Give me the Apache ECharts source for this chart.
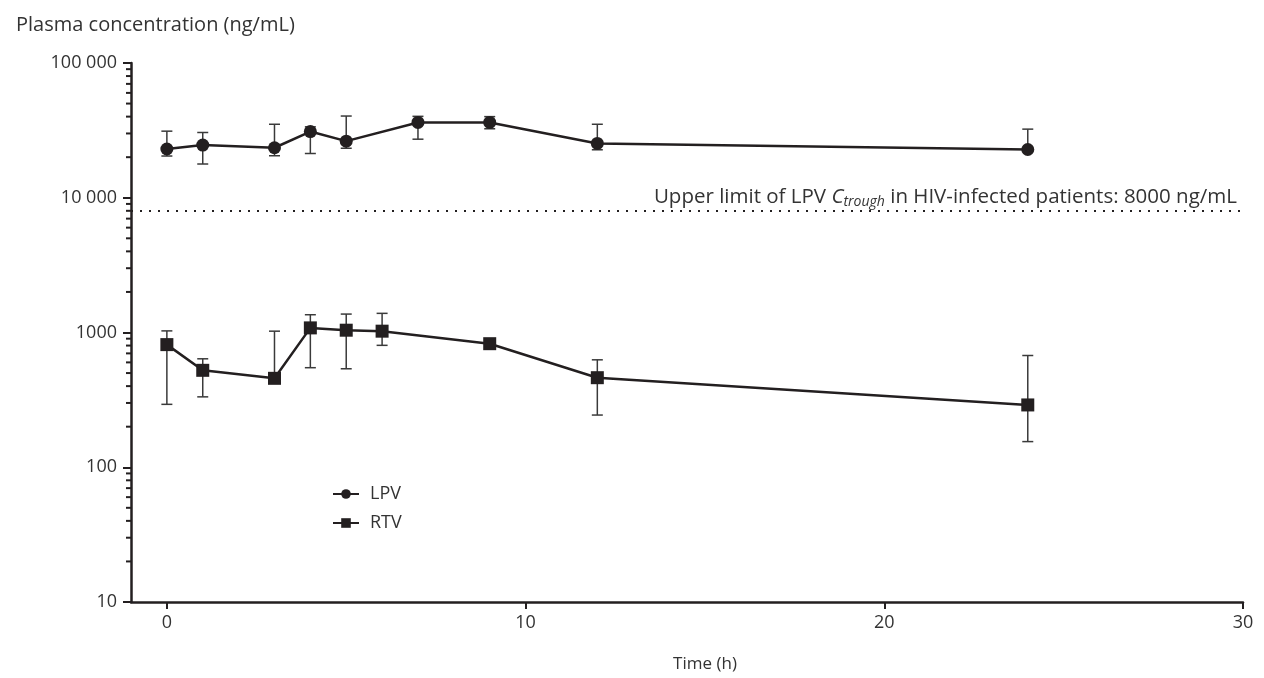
<!DOCTYPE html>
<html>
<head>
<meta charset="utf-8">
<title>LPV / RTV plasma concentration</title>
<script src="https://cdn.jsdelivr.net/npm/echarts@6/dist/echarts.min.js"></script>
<style>
  html, body { margin: 0; padding: 0; background: #fff; }
  #main { width: 1264px; height: 678px; }
</style>
</head>
<body>
<div id="main"></div>
<script>
// sampling times (h)
var lpvTimes = [0, 1, 3, 4, 5, 7, 9, 12, 24];
var rtvTimes = [0, 1, 3, 4, 5, 6, 9, 12, 24];

// LPV mean and error bar ends (ng/mL)
var lpvMean = [23000, 24600, 23500, 31000, 26300, 36200, 36200, 25300, 22800];
var lpvHigh = [31200, 30500, 35100, 33600, 40400, 40200, 40000, 35100, 32300];
var lpvLow  = [20400, 17800, 20500, 21300, 23300, 27200, 32500, 22700, 22800];

// RTV mean and error bar ends (ng/mL)
var rtvMean = [813, 524, 457, 1082, 1040, 1023, 826, 462, 290];
var rtvHigh = [1028, 638, 1023, 1355, 1370, 1387, 826, 627, 675];
var rtvLow  = [293, 333, 457, 548, 538, 803, 826, 244, 155];

var ctroughLimit = 8000;
var xTicks = [0, 10, 20, 30];
var yMinorTicks = [20, 30, 40, 50, 60, 70, 80, 90,
  200, 300, 400, 500, 600, 700, 800, 900,
  2000, 3000, 4000, 5000, 6000, 7000, 8000, 9000,
  20000, 30000, 40000, 50000, 60000, 70000, 80000, 90000];

var ink = '#231f20';
var txt = '#333';
var font = 'Open Sans';

function pairs(xs, ys) {
  return xs.map(function (x, i) { return [x, ys[i]]; });
}
function errRows(xs, m, lo, hi) {
  return xs.map(function (x, i) { return [x, m[i], lo[i], hi[i]]; });
}

// vertical error bar with caps
function renderErr(params, api) {
  var x = api.value(0), m = api.value(1), lo = api.value(2), hi = api.value(3);
  var pm = api.coord([x, m]);
  var children = [];
  var cap = 5.5;
  var st = { stroke: '#3a3a3a', lineWidth: 1.5 };
  if (hi > m) {
    var ph = api.coord([x, hi]);
    children.push({ type: 'line', shape: { x1: pm[0], y1: pm[1], x2: ph[0], y2: ph[1] }, style: st });
    children.push({ type: 'line', shape: { x1: ph[0] - cap, y1: ph[1], x2: ph[0] + cap, y2: ph[1] }, style: st });
  }
  if (lo < m) {
    var pl = api.coord([x, lo]);
    children.push({ type: 'line', shape: { x1: pm[0], y1: pm[1], x2: pl[0], y2: pl[1] }, style: st });
    children.push({ type: 'line', shape: { x1: pl[0] - cap, y1: pl[1], x2: pl[0] + cap, y2: pl[1] }, style: st });
  }
  return { type: 'group', children: children };
}

// log minor ticks on the y axis
function renderMinor(params, api) {
  var p = api.coord([-1, api.value(1)]);
  return {
    type: 'line',
    shape: { x1: p[0] - 5, y1: p[1], x2: p[0], y2: p[1] },
    style: { stroke: ink, lineWidth: 2 }
  };
}

var myChart = echarts.init(document.getElementById('main'));
var option = {
  animation: false,
  textStyle: { fontFamily: font },
  title: {
    text: 'Plasma concentration (ng/mL)',
    left: 11, top: 10,
    textStyle: { fontFamily: font, fontSize: 20, fontWeight: 'normal', color: txt }
  },
  legend: {
    data: ['LPV', 'RTV'],
    orient: 'vertical',
    left: 327, top: 480,
    itemWidth: 26, itemHeight: 12, itemGap: 11,
    textStyle: { fontFamily: font, fontSize: 18, lineHeight: 18, color: txt, padding: [0, 0, 0, 6] }
  },
  grid: { left: 131, right: 21, top: 63, bottom: 69, containLabel: false },
  xAxis: {
    type: 'value',
    min: -1, max: 30,
    name: 'Time (h)',
    nameLocation: 'middle',
    nameGap: 54,
    nameTextStyle: { fontFamily: font, fontSize: 17, color: txt, padding: [0, 0, 0, 36] },
    axisLine: { show: true, onZero: false, lineStyle: { color: ink, width: 2.5 } },
    axisTick: { show: true, length: 7, customValues: xTicks, lineStyle: { color: ink, width: 2 } },
    axisLabel: { customValues: xTicks, margin: 12, fontFamily: font, fontSize: 18, color: txt },
    splitLine: { show: false }
  },
  yAxis: {
    type: 'log',
    logBase: 10,
    min: 10, max: 100000,
    axisLine: { show: true, onZero: false, lineStyle: { color: ink, width: 2.5 } },
    axisTick: { show: true, length: 8, lineStyle: { color: ink, width: 2 } },
    axisLabel: {
      margin: 14, fontFamily: font, fontSize: 18, color: txt,
      formatter: function (v) {
        var s = String(Math.round(v));
        return v >= 10000 ? s.replace(/(\d)(?=(\d{3})+$)/g, '$1 ') : s;
      }
    },
    splitLine: { show: false }
  },
  series: [
    {
      name: 'minor',
      type: 'custom',
      renderItem: renderMinor,
      data: yMinorTicks.map(function (v) { return [-1, v]; }),
      silent: true, z: 1
    },
    {
      name: 'LPV err',
      type: 'custom',
      renderItem: renderErr,
      data: errRows(lpvTimes, lpvMean, lpvLow, lpvHigh),
      silent: true, z: 2
    },
    {
      name: 'RTV err',
      type: 'custom',
      renderItem: renderErr,
      data: errRows(rtvTimes, rtvMean, rtvLow, rtvHigh),
      silent: true, z: 2
    },
    {
      name: 'LPV',
      type: 'line',
      symbol: 'circle',
      symbolSize: 13,
      color: ink,
      lineStyle: { color: ink, width: 2.5 },
      itemStyle: { color: ink },
      data: pairs(lpvTimes, lpvMean),
      z: 3,
      markLine: {
        silent: true,
        symbol: 'none',
        lineStyle: { color: ink, type: [2, 7], width: 2 },
        label: {
          show: true,
          position: 'insideEndTop',
          distance: [6, 2],
          formatter: '{a|Upper limit of LPV }{c|C}{s|trough}{a| in HIV-infected patients: 8000 ng/mL}',
          rich: {
            a: { fontFamily: font, fontSize: 20.5, color: txt },
            c: { fontFamily: font, fontSize: 20.5, fontStyle: 'italic', color: txt },
            s: { fontFamily: font, fontSize: 14, fontStyle: 'italic', color: txt, padding: [10, 0, 0, 0] }
          }
        },
        data: [{ yAxis: ctroughLimit }]
      }
    },
    {
      name: 'RTV',
      type: 'line',
      symbol: 'rect',
      symbolSize: 13,
      color: ink,
      lineStyle: { color: ink, width: 2.5 },
      itemStyle: { color: ink },
      data: pairs(rtvTimes, rtvMean),
      z: 3
    }
  ]
};
myChart.setOption(option);
window.addEventListener('resize', function () {
  myChart.resize();
});
</script>
</body>
</html>
